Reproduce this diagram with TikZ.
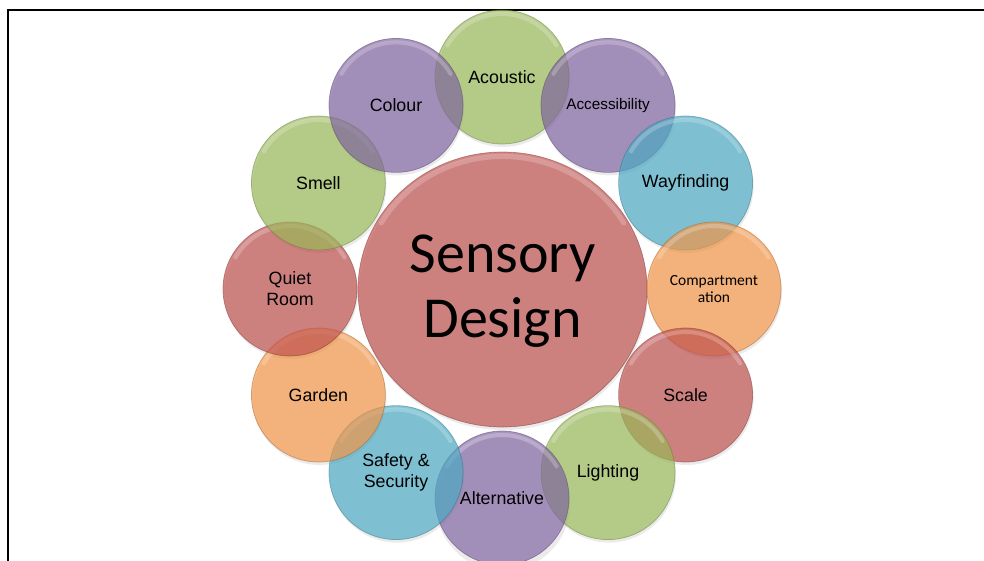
\documentclass[tikz,border=0pt]{standalone}
\usepackage{fontspec}
\setmainfont{Liberation Sans}
\newfontfamily\calib{Carlito}
\usetikzlibrary{shapes.geometric,calc}
\definecolor{cgreen}{HTML}{9BBB59}
\definecolor{cpurple}{HTML}{8064A2}
\definecolor{cblue}{HTML}{4BACC6}
\definecolor{corange}{HTML}{F79646}
\definecolor{cred}{HTML}{C0504D}
\newcommand{\lab}{\fontsize{17.8}{21}\selectfont}
\newcommand{\glossarc}[2]{%
  \draw[white, opacity=0.22, line width=4pt, line cap=round]
    ([shift={(150:#2)}]#1.center) arc[start angle=150, end angle=30, radius=#2];}
\tikzset{
  bub/.style={circle, minimum size=134pt, inner sep=0pt, fill=#1, fill opacity=0.68,
    draw=#1!65!black, draw opacity=0.5, line width=0.7pt, text opacity=1,
    align=center, font=\lab, text=black},
  shad/.style={fill=black, opacity=0.08},
  frame/.style={draw=black, line width=1.4pt},
}
\begin{document}
\begin{tikzpicture}[x=1pt,y=-1pt]
\useasboundingbox (0,0) rectangle (984,560);
\fill[white] (0,0) rectangle (984,560);
\coordinate (fA) at (8,562);
\coordinate (fB) at (8,10);
\coordinate (fC) at (986,10);
\draw[frame] (fA) -- (fB) -- (fC);

% positions
\coordinate (pc) at (502.5,289.5);
\coordinate (p1) at (502,77);
\coordinate (p2) at (608,105.4);
\coordinate (p3) at (685.6,183);
\coordinate (p4) at (714,289);
\coordinate (p5) at (685.6,395);
\coordinate (p6) at (608,472.6);
\coordinate (p7) at (502,501);
\coordinate (p8) at (396,472.6);
\coordinate (p9) at (318.4,395);
\coordinate (p10) at (290,289);
\coordinate (p11) at (318.4,183);
\coordinate (p12) at (396,105.4);

% soft shadows
\foreach \p in {p1,p2,p3,p4,p5,p6,p7,p8,p9,p10,p11,p12}{
  \fill[shad] ($(\p)+(1,3)$) circle[radius=67pt];
}
\fill[shad] ($(pc)+(1,3)$) ellipse[x radius=144.5pt, y radius=137.5pt];

% centre
\node[ellipse, minimum width=289pt, minimum height=275pt, inner sep=0pt,
  fill=cred, fill opacity=0.68, draw=cred!65!black, draw opacity=0.5, line width=0.7pt]
  (centre) at (pc) {};
\draw[white, opacity=0.2, line width=5pt, line cap=round]
  ([shift={(150:140pt and 133pt)}]centre.center) arc[start angle=150, end angle=30, x radius=140pt, y radius=133pt];
\node[font=\calib\fontsize{58}{65}\selectfont, align=center] (sd) at (502.5,291.5) {Sensory\\Design};

% ring
\node[bub=cgreen] (acoustic) at (p1) {Acoustic}; \glossarc{acoustic}{63pt}
\node[bub=cpurple, font=\fontsize{15.3}{18}\selectfont] (access) at (p2) {Accessibility}; \glossarc{access}{63pt}
\node[bub=cblue] (way) at (p3) {Wayfinding}; \glossarc{way}{63pt}
\node[bub=corange, font=\calib\fontsize{15.5}{16.5}\selectfont] (comp) at (p4) {Compartment\\ation}; \glossarc{comp}{63pt}
\node[bub=cred] (scale) at (p5) {Scale}; \glossarc{scale}{63pt}
\node[bub=cgreen] (light) at (p6) {Lighting}; \glossarc{light}{63pt}
\node[bub=cpurple] (alt) at ($(p7)+(0,-3)$) {Alternative}; \glossarc{alt}{63pt}
\node[bub=cblue] (safety) at (p8) {Safety \&\\Security}; \glossarc{safety}{63pt}
\node[bub=corange] (garden) at (p9) {Garden}; \glossarc{garden}{63pt}
\node[bub=cred] (quiet) at (p10) {Quiet\\Room}; \glossarc{quiet}{63pt}
\node[bub=cgreen] (smell) at (p11) {Smell}; \glossarc{smell}{63pt}
\node[bub=cpurple] (colour) at (p12) {Colour}; \glossarc{colour}{63pt}
\end{tikzpicture}
\end{document}
